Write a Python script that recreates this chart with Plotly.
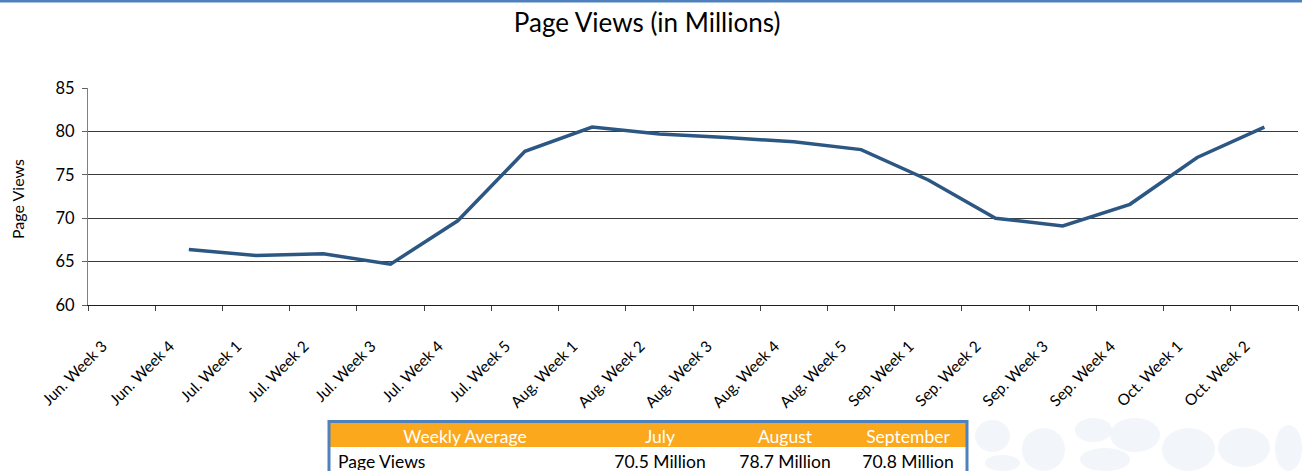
import plotly.graph_objects as go

W, H = 1302, 471

categories = ["Jun. Week 3", "Jun. Week 4", "Jul. Week 1", "Jul. Week 2", "Jul. Week 3",
              "Jul. Week 4", "Jul. Week 5", "Aug. Week 1", "Aug. Week 2", "Aug. Week 3",
              "Aug. Week 4", "Aug. Week 5", "Sep. Week 1", "Sep. Week 2", "Sep. Week 3",
              "Sep. Week 4", "Oct. Week 1", "Oct. Week 2"]
page_views = [None, 66.4, 65.7, 65.9, 64.7, 69.7, 77.7, 80.5, 79.7, 79.3,
              78.8, 77.9, 74.4, 70.0, 69.1, 71.6, 77.0, 80.5]

table_header = ["Weekly Average", "July", "August", "September"]
table_row = ["Page Views", "70.5 Million", "78.7 Million", "70.8 Million"]

FONT = "Lato, 'Open Sans', sans-serif"


def px_x(x):
    return x / W


def px_y(y):
    return 1 - y / H


fig = go.Figure()

fig.add_trace(go.Scatter(
    x=categories, y=page_views, mode="lines",
    line=dict(color="#2C5782", width=3.5),
    connectgaps=False, hoverinfo="x+y", showlegend=False,
    xaxis="x", yaxis="y",
))

fig.add_trace(go.Table(
    domain=dict(x=[px_x(330), px_x(966)], y=[0, px_y(422)]),
    columnwidth=[270, 120, 130, 116],
    header=dict(values=table_header, fill_color="#FBA81C",
                font=dict(color="white", size=17.5, family=FONT),
                align=["center", "center", "center", "center"],
                line=dict(width=0, color="#FBA81C"), height=25),
    cells=dict(values=[[v] for v in table_row], fill_color="white",
               font=dict(color="black", size=17.5, family=FONT),
               align=["left", "center", "center", "center"],
               line=dict(width=0, color="white"), height=24),
))

shapes = []
# faint decorative leaves, bottom right
for (x0, y0, x1, y1) in [(975, 420, 1010, 452), (1022, 428, 1065, 471), (1075, 418, 1112, 442),
                         (1110, 418, 1160, 452), (1162, 428, 1215, 471), (1218, 428, 1270, 467),
                         (1275, 425, 1302, 471), (1080, 448, 1130, 471), (985, 455, 1020, 471)]:
    shapes.append(dict(type="circle", xref="paper", yref="paper", layer="below",
                       x0=px_x(x0), x1=px_x(x1), y0=px_y(y1), y1=px_y(y0),
                       fillcolor="#F2F5FA", line=dict(width=0)))
# top blue rule
shapes.append(dict(type="rect", xref="paper", yref="paper",
                   x0=0, x1=1, y0=px_y(2.5), y1=1.01,
                   fillcolor="#4F81BD", line=dict(width=0)))
# table border
shapes.append(dict(type="rect", xref="paper", yref="paper",
                   x0=px_x(329), x1=px_x(967), y0=px_y(475), y1=px_y(421.5),
                   fillcolor="rgba(0,0,0,0)", line=dict(color="#4F81BD", width=3)))

fig.update_layout(
    width=W, height=H,
    margin=dict(l=0, r=0, t=0, b=0),
    paper_bgcolor="white", plot_bgcolor="white",
    font=dict(family=FONT, color="black"),
    title=dict(text="Page Views (in Millions)", x=0.497, xanchor="center",
               y=px_y(23), yanchor="middle", font=dict(size=26, color="black")),
    xaxis=dict(domain=[px_x(88), px_x(1298)], type="category",
               range=[-0.5, len(categories) - 0.5],
               tickangle=-45, tickson="boundaries", ticks="outside", ticklen=5,
               tickcolor="#404040", showline=True, linecolor="#202020", linewidth=1,
               showgrid=False, tickfont=dict(size=15.5), automargin=False,
               ticklabelstandoff=25, ticklabelshift=-19,
               anchor="y"),
    yaxis=dict(domain=[px_y(305), px_y(88)], range=[60, 85], dtick=5,
               ticks="outside", ticklen=5, tickcolor="#606060",
               showline=True, linecolor="#808080", linewidth=1,
               showgrid=True, gridcolor="#3a3a3a", gridwidth=1,
               tickfont=dict(size=16.5), automargin=False, zeroline=False,
               ticklabelstandoff=4,
               anchor="x"),
    annotations=[dict(text="Page Views", xref="paper", yref="paper",
                      x=px_x(17), y=px_y(199), textangle=-90, showarrow=False,
                      font=dict(size=16), xanchor="center", yanchor="middle")],
    shapes=shapes,
    showlegend=False,
)

fig.write_html("out.html")
